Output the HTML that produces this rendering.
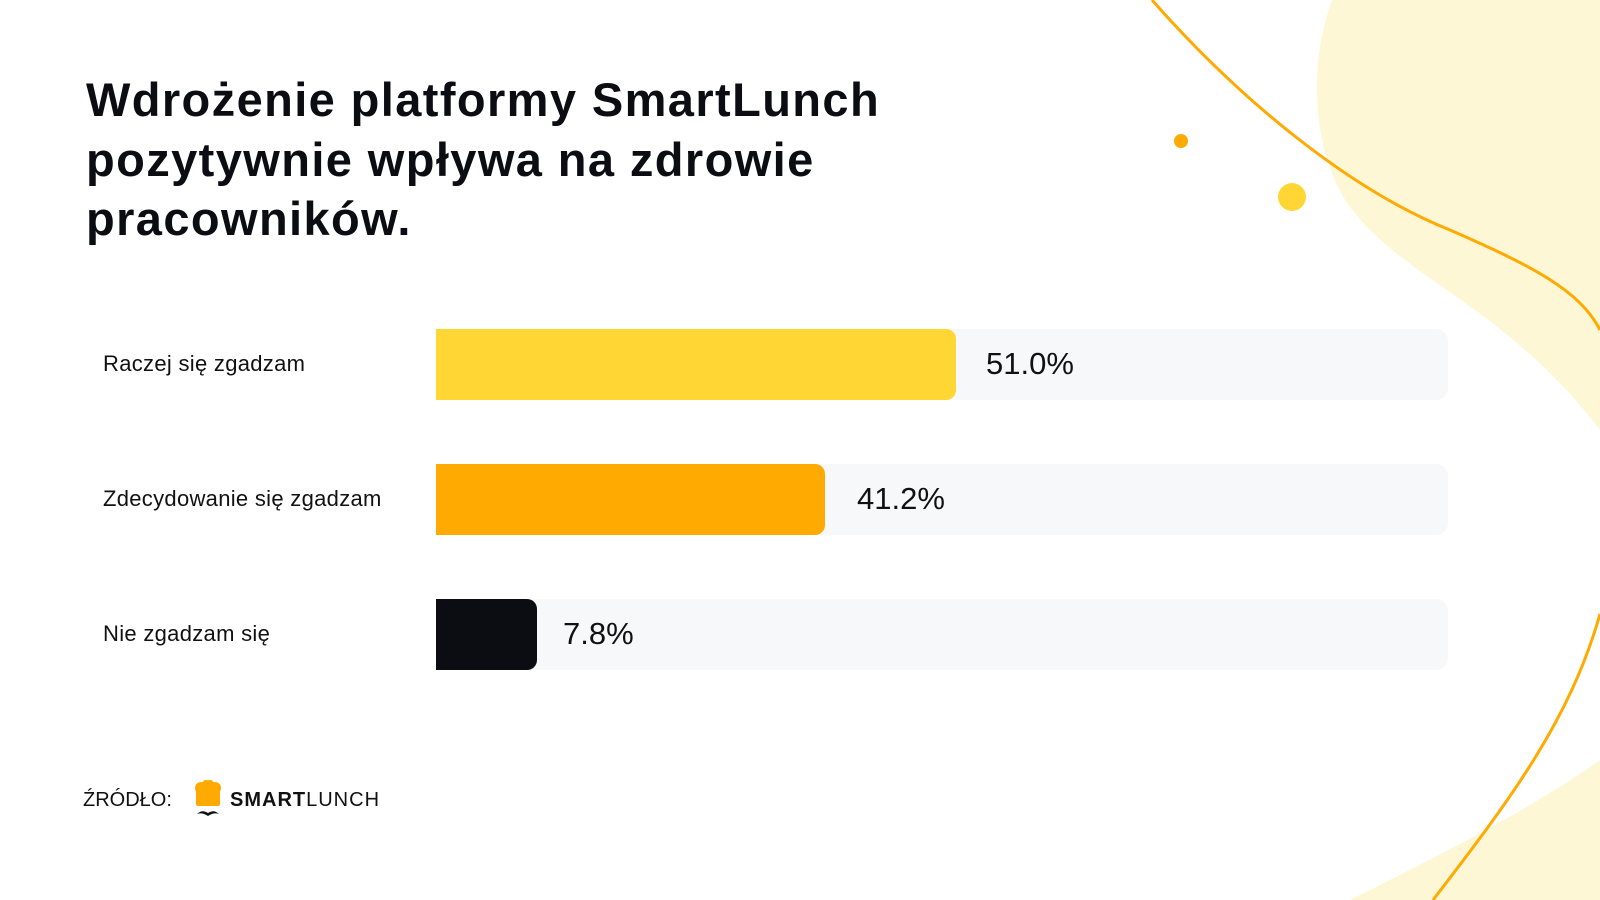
<!DOCTYPE html>
<html><head><meta charset="utf-8"><style>
body{margin:0;width:1600px;height:900px;background:#fff;position:relative;overflow:hidden;font-family:"Liberation Sans",sans-serif;}
svg.bg{position:absolute;left:0;top:0}
.title{position:absolute;left:86px;top:70px;font-weight:bold;font-size:47px;line-height:59.5px;color:#0c0d12;letter-spacing:1.4px;}
.lab{position:absolute;left:103px;font-size:22px;color:#111;letter-spacing:0.3px}
.track{position:absolute;left:436px;width:1012px;height:71px;background:#f7f8fa;border-radius:12px;}
.fill{position:absolute;left:436px;height:71px;border-radius:0 10px 10px 0;}
.val{position:absolute;font-size:31px;color:#111;}
</style></head><body>
<svg class="bg" width="1600" height="900">
<path d="M1332 0 C1310 60,1310 140,1345 200 C1400 280,1500 300,1600 430 L1600 0 Z" fill="#fef7d6"/>
<path d="M1350 900 C1430 860,1530 810,1600 760 L1600 900 Z" fill="#fef7d6"/>
<path d="M1152 0 C1240 100,1350 190,1450 230 C1530 265,1580 290,1600 330" fill="none" stroke="#ffaa00" stroke-width="3"/>
<path d="M1600 614 C1570 720,1510 800,1433 900" fill="none" stroke="#ffaa00" stroke-width="3"/>
<circle cx="1181" cy="141" r="7" fill="#ffaa00"/>
<circle cx="1292" cy="197" r="14" fill="#ffd633"/>
</svg>
<div class="title">Wdrożenie platformy SmartLunch<br>pozytywnie wpływa na zdrowie<br>pracowników.</div>

<div class="track" style="top:329px"></div>
<div class="fill" style="top:329px;width:520px;background:#ffd633"></div>
<div class="lab" style="top:351px">Raczej się zgadzam</div>
<div class="val" style="left:986px;top:346px">51.0%</div>

<div class="track" style="top:464px"></div>
<div class="fill" style="top:464px;width:389px;background:#ffaa00"></div>
<div class="lab" style="top:486px">Zdecydowanie się zgadzam</div>
<div class="val" style="left:857px;top:481px">41.2%</div>

<div class="track" style="top:599px"></div>
<div class="fill" style="top:599px;width:101px;background:#0c0d12"></div>
<div class="lab" style="top:621px">Nie zgadzam się</div>
<div class="val" style="left:563px;top:616px">7.8%</div>

<div style="position:absolute;left:83px;top:789px;font-size:20px;color:#111">ŹRÓDŁO:</div>
<svg style="position:absolute;left:192px;top:780px" width="32" height="44">
<circle cx="9" cy="8" r="6" fill="#ffaa00"/><circle cx="16" cy="5" r="6" fill="#ffaa00"/><circle cx="23" cy="8" r="6" fill="#ffaa00"/>
<rect x="4" y="8" width="24" height="18" rx="2" fill="#ffaa00"/>
<path d="M5 34 Q10 29 16 33 Q22 29 27 34 Q22 32 16 36 Q10 32 5 34Z" fill="#111"/>
</svg>
<div style="position:absolute;left:230px;top:789px;font-size:20px;color:#111;letter-spacing:1px"><b>SMART</b>LUNCH</div>
</body></html>
